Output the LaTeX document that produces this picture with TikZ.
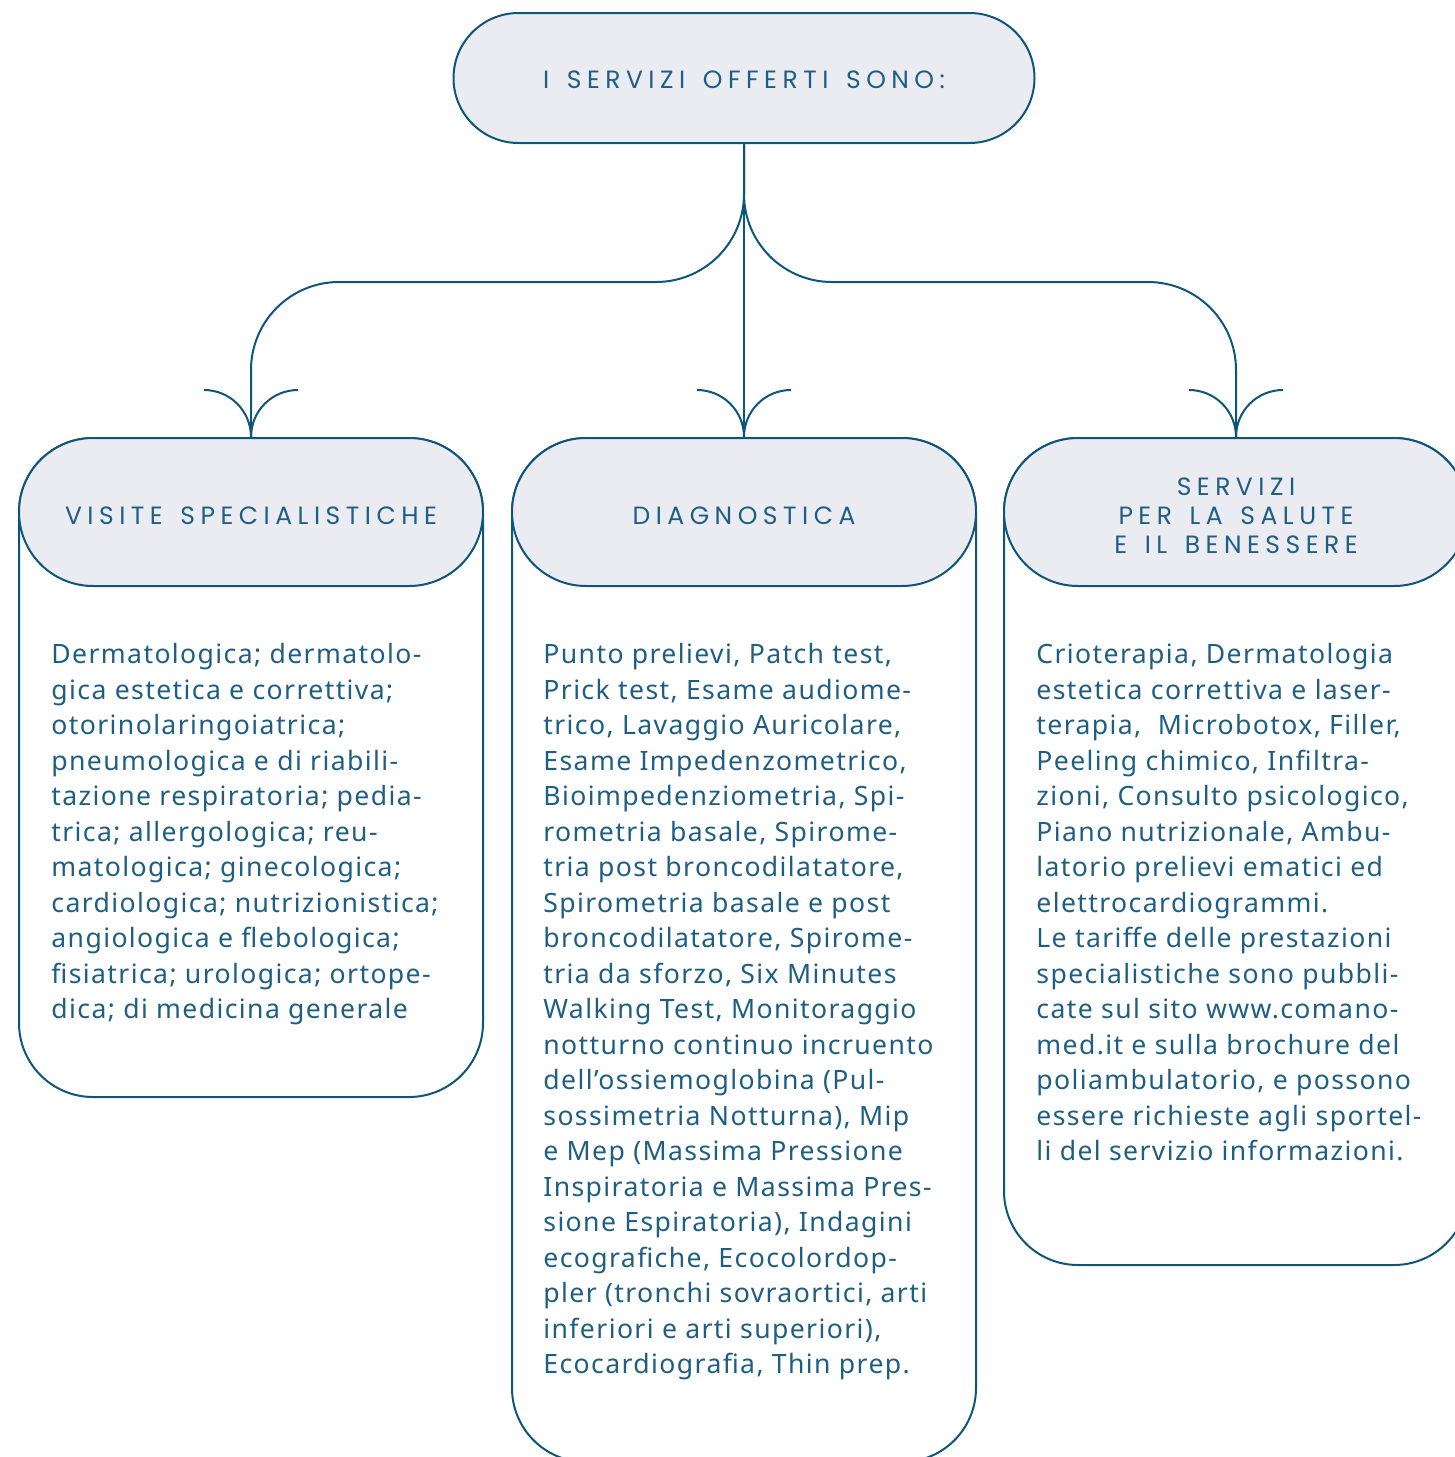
\documentclass[tikz,border=0pt]{standalone}
\usepackage{fontspec}
\setmainfont{Noto Sans}[LetterSpace=5.2]
\newfontfamily\headfont{Poppins}[LetterSpace=22,WordSpace=1.45]
\usetikzlibrary{shapes.misc,calc}
\definecolor{lineblue}{HTML}{0F557A}
\definecolor{textblue}{HTML}{1F5E83}
\definecolor{headfill}{HTML}{EBECF1}
\tikzset{
  hdr/.style={rounded rectangle, draw=lineblue, fill=headfill, line width=1pt,
    minimum width=232pt, minimum height=74pt, inner sep=0pt},
  hdrtext/.style={inner sep=0pt, text=textblue, yshift=-1.8pt,
    font=\headfont\fontsize{12.5}{14.5}\selectfont, align=center},
  bodybox/.style={rectangle, draw=lineblue, line width=1pt, rounded corners=37pt,
    minimum width=232pt, inner sep=0pt},
  bodytext/.style={anchor=north west, inner sep=0pt, text=textblue, align=left,
    font=\fontsize{13.3}{17.75}\selectfont},
  conn/.style={draw=lineblue, line width=1pt},
}
\newcommand{\arrowtip}[1]{%
  \draw[conn] ($(#1)+(-47,-47)$) .. controls ($(#1)+(-21,-47)$) and ($(#1)+(0,-26)$) .. (#1);
  \draw[conn] ($(#1)+(47,-47)$) .. controls ($(#1)+(21,-47)$) and ($(#1)+(0,-26)$) .. (#1);
}
\begin{document}
\begin{tikzpicture}[x=0.5pt,y=-0.5pt]
\useasboundingbox (0,0) rectangle (1455,1457);
\clip (0,0) rectangle (1455,1457);
% body outlines
\node[bodybox, minimum height=329.5pt] (lbody) at (251,767.5) {};
\node[bodybox, minimum height=512pt] (mbody) at (744,950) {};
\node[bodybox, minimum height=413.5pt] (rbody) at (1236,851.5) {};
% headers
\node[hdr, minimum width=290.5pt, minimum height=65pt] (top) at (744,78) {};
\node[hdr] (lhead) at (251,512) {};
\node[hdr] (mhead) at (744,512) {};
\node[hdr] (rhead) at (1236,512) {};
\node[hdrtext, yshift=0.8pt] (toptxt) at (top.center) {I SERVIZI OFFERTI SONO:};
\node[hdrtext] (lheadtxt) at (lhead.center) {VISITE SPECIALISTICHE};
\node[hdrtext] (mheadtxt) at (mhead.center) {DIAGNOSTICA};
\node[hdrtext] (rheadtxt) at (rhead.center) {SERVIZI\\PER LA SALUTE\\E IL BENESSERE};
% connectors
\draw[conn] (top.south) -- (mhead.north);
\draw[conn, rounded corners=44pt] (top.south) -- ++(0,138) -| (lhead.north);
\draw[conn, rounded corners=44pt] (top.south) -- ++(0,138) -| (rhead.north);
\arrowtip{lhead.north}
\arrowtip{mhead.north}
\arrowtip{rhead.north}
% texts
\node[bodytext] (ltext) at (51,643) {Dermatologica; dermatolo-\\
gica estetica e correttiva;\\
otorinolaringoiatrica;\\
pneumologica e di riabili-\\
tazione respiratoria; pedia-\\
trica; allergologica; reu-\\
matologica; ginecologica;\\
cardiologica; nutrizionistica;\\
angiologica e flebologica;\\
fisiatrica; urologica; ortope-\\
dica; di medicina generale};
\node[bodytext] (mtext) at (543,643) {Punto prelievi, Patch test,\\
Prick test, Esame audiome-\\
trico, Lavaggio Auricolare,\\
Esame Impedenzometrico,\\
Bioimpedenziometria, Spi-\\
rometria basale, Spirome-\\
tria post broncodilatatore,\\
Spirometria basale e post\\
broncodilatatore, Spirome-\\
tria da sforzo, Six Minutes\\
Walking Test, Monitoraggio\\
notturno continuo incruento\\
dell’ossiemoglobina (Pul-\\
sossimetria Notturna), Mip\\
e Mep (Massima Pressione\\
Inspiratoria e Massima Pres-\\
sione Espiratoria), Indagini\\
ecografiche, Ecocolordop-\\
pler (tronchi sovraortici, arti\\
inferiori e arti superiori),\\
Ecocardiografia, Thin prep.};
\node[bodytext] (rtext) at (1036,643) {Crioterapia, Dermatologia\\
estetica correttiva e laser-\\
terapia, \ Microbotox, Filler,\\
Peeling chimico, Infiltra-\\
zioni, Consulto psicologico,\\
Piano nutrizionale, Ambu-\\
latorio prelievi ematici ed\\
elettrocardiogrammi.\\
Le tariffe delle prestazioni\\
specialistiche sono pubbli-\\
cate sul sito www.comano-\\
med.it e sulla brochure del\\
poliambulatorio, e possono\\
essere richieste agli sportel-\\
li del servizio informazioni.};
\end{tikzpicture}
\end{document}
